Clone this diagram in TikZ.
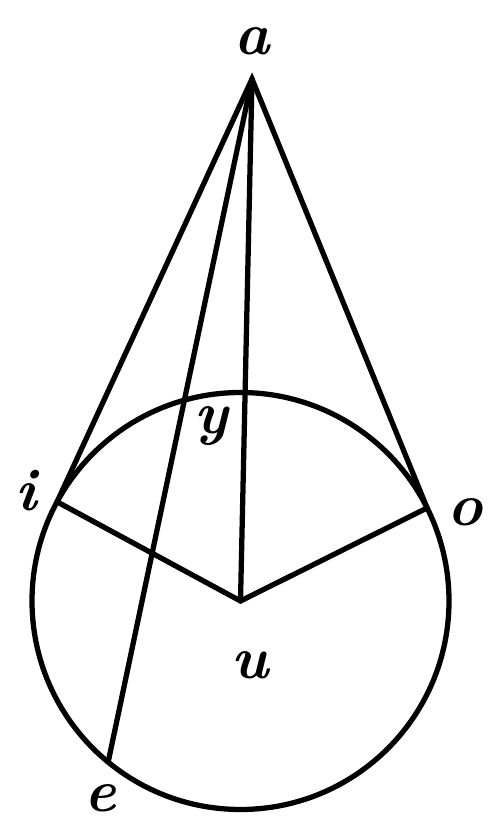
\documentclass[tikz,border=0pt]{standalone}
\usetikzlibrary{calc}
\begin{document}
\begin{tikzpicture}[line width=3pt, line cap=round,
    lbl/.style={font=\fontsize{34}{34}\selectfont\bfseries\itshape, inner sep=0pt}]
    \useasboundingbox (0,0) rectangle (9.88,16.74);
    % circle and its points
    \coordinate (u) at (4.81,4.72);
    \coordinate (a) at (5.04,15.16);
    \coordinate (i) at ($(u)+(151.6:4.17)$);
    \coordinate (o) at ($(u)+(26.5:4.17)$);
    \coordinate (e) at ($(u)+(230.6:4.17)$);
    \draw (u) circle (4.17);
    \draw (i) -- (a) -- (o);
    \draw (a) -- (u);
    \draw (a) -- (e);
    \draw (i) -- (u) -- (o);
    % letters
    \node[lbl] (la) at (5.04,15.92) {a};
    \node[lbl] (li) at (0.52,6.92) {i};
    \node[lbl] (lo) at (9.30,6.50) {o};
    \node[lbl] (le) at (2.00,0.78) {e};
    \node[lbl] (ly) at (4.22,8.22) {y};
    \node[lbl] (lu) at (5.00,3.44) {u};
\end{tikzpicture}
\end{document}
